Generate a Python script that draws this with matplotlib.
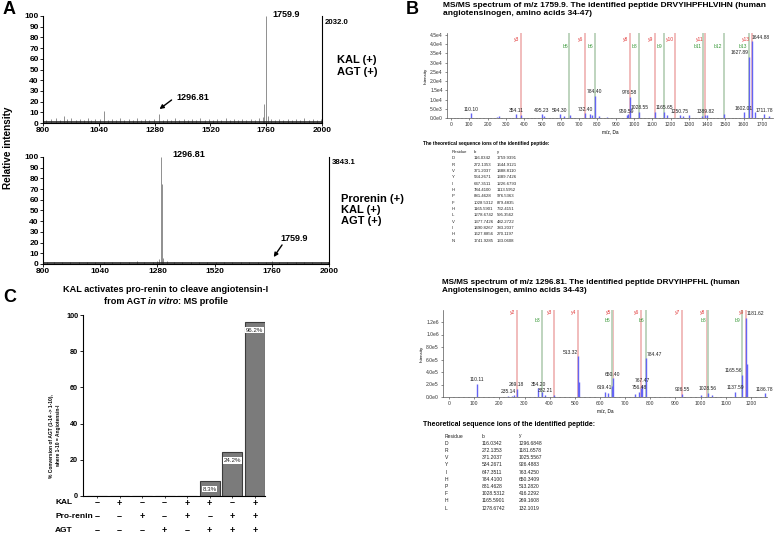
"""Composite MS figure: MALDI profiles (A), MS/MS spectra with ion tables (B),
and % conversion bar chart (C)."""
import numpy as np
import matplotlib
matplotlib.use("Agg")
import matplotlib.pyplot as plt

plt.rcParams["font.family"] = ["Liberation Sans", "DejaVu Sans"]

W, H = 778, 537

# ---------------- panel A: MALDI profiles, (m/z, % relative intensity)
A_XTICKS = [800, 1040, 1280, 1520, 1760, 2000]
A1_PEAKS = [(812, 3), (835, 4), (858, 5), (872, 3), (890, 7), (905, 4), (921, 5), (940, 3),
            (958, 4), (975, 3), (992, 5), (1008, 3), (1025, 4), (1046, 4), (1062, 11), (1080, 3),
            (1098, 4), (1115, 3), (1132, 5), (1150, 3), (1168, 4), (1186, 3), (1204, 5), (1222, 3),
            (1240, 4), (1258, 3), (1276, 4), (1296.81, 8), (1315, 3), (1333, 4), (1351, 3), (1369, 5),
            (1387, 3), (1405, 4), (1423, 3), (1441, 4), (1459, 3), (1477, 5), (1495, 3), (1513, 4),
            (1531, 3), (1549, 4), (1567, 3), (1585, 5), (1603, 3), (1621, 4), (1639, 3), (1657, 4),
            (1675, 3), (1693, 4), (1711, 3), (1729, 5), (1745, 6), (1752, 18), (1759.9, 100),
            (1766, 7), (1780, 4), (1798, 3), (1816, 4), (1834, 3), (1852, 4), (1870, 3), (1888, 4),
            (1906, 3), (1924, 5), (1942, 3), (1960, 4), (1978, 3), (1994, 4)]
A2_PEAKS = [(815, 1.5), (845, 2), (880, 1.5), (915, 2), (950, 1.5), (985, 2), (1020, 1.5),
            (1055, 2), (1090, 1.5), (1125, 2), (1160, 1.5), (1195, 2.5), (1225, 2), (1260, 2),
            (1278, 3), (1288, 5), (1296.81, 100), (1298.5, 75), (1305, 6), (1320, 2.5), (1350, 2),
            (1385, 1.5), (1420, 2), (1455, 1.5), (1490, 2), (1525, 1.5), (1560, 2), (1595, 1.5),
            (1630, 2), (1665, 1.5), (1700, 2), (1735, 1.5), (1759.9, 3), (1790, 2), (1825, 1.5),
            (1860, 2), (1895, 1.5), (1930, 2), (1965, 1.5), (1995, 2)]
A1_FLOOR, A2_FLOOR = 1.0, 0.6
A1_MAX, A2_MAX = "2032.0", "3843.1"

# ---------------- panel B: MS/MS spectra
B1_PEAK_MZ = [110.10, 254, 262, 354.11, 383, 495.23, 510, 594.30, 620, 648, 732.40, 760, 771,
              784.40, 810, 850, 959.59, 970, 976.58, 1028.55, 1113, 1165.65, 1180, 1250.75, 1268,
              1300, 1370, 1389.82, 1400, 1490, 1602.01, 1627.89, 1644.88, 1660, 1711.78, 1740]
B1_PEAK_INT = [2.5e3, 0.8e3, 1.0e3, 2.0e3, 1.5e3, 2.0e3, 1.2e3, 2.0e3, 1.0e3, 1.5e3, 2.5e3, 2.0e3,
               1.5e3, 1.2e4, 1.0e3, 0.8e3, 1.5e3, 2.0e3, 1.15e4, 3.5e3, 3.0e3, 3.5e3, 1.5e3, 1.5e3,
               1.0e3, 1.5e3, 1.0e3, 1.5e3, 1.5e3, 2.0e3, 3.0e3, 3.3e4, 4.15e4, 3.0e3, 2.0e3, 1.0e3]
B1_LABEL_MZ = [110.10, 354.11, 495.23, 594.30, 732.40, 784.40, 959.59, 976.58, 1028.55, 1165.65,
               1250.75, 1389.82, 1602.01, 1627.89, 1644.88, 1711.78]
B1_YTICKS = [0, 5e3, 1e4, 1.5e4, 2e4, 2.5e4, 3e4, 3.5e4, 4e4, 4.5e4]

B2_PEAK_MZ = [110.11, 235.14, 250, 257, 269.18, 354.20, 370, 382.21, 416, 513.32, 518, 619.41, 630,
              648, 650.40, 740, 756.48, 763, 767.47, 784.47, 926.55, 1000, 1028.56, 1045, 1137.59,
              1165.56, 1181.62, 1184, 1255]
B2_PEAK_INT = [2.1e5, 2.0e4, 2.0e4, 3.0e4, 1.3e5, 1.4e5, 8e4, 4e4, 3e4, 6.5e5, 2.4e5, 8e4, 7e4,
               1.8e5, 3.0e5, 5e4, 8e4, 1.5e5, 2.0e5, 6.2e5, 5e4, 4e4, 7e4, 3e4, 8e4, 3.5e5,
               1.27e6, 5.3e5, 6e4]
B2_LABEL_MZ = [110.11, 235.14, 269.18, 354.20, 382.21, 513.32, 619.41, 650.40, 756.48, 767.47,
               784.47, 926.55, 1028.56, 1137.59, 1165.56, 1181.62, 1255]
B2_LABEL_TXT = ["110.11", "235.14", "269.18", "354.20", "382.21", "513.32", "619.41", "650.40",
                "756.48", "767.47", "784.47", "926.55", "1028.56", "1137.59", "1165.56", "1181.62",
                "1186.78"]
B2_YTICKS = [0, 2e5, 4e5, 6e5, 8e5, 1e6, 1.2e6]

# theoretical sequence ions
B1_RES = list("DRVYIHPFHLVIHN")
B1_B = [116.0342, 272.1353, 371.2037, 534.2671, 647.3511, 784.4100, 881.4628, 1028.5312,
        1165.5901, 1278.6742, 1377.7426, 1490.8267, 1627.8856, 1741.9285]
B1_Y = [1759.9391, 1644.9121, 1488.8110, 1389.7426, 1226.6793, 1113.5952, 976.5363, 879.4835,
        732.4151, 595.3562, 482.2722, 383.2037, 270.1197, 133.0608]
B1_Y_SHOWN = [3, 6, 8, 9, 10, 11, 13]
B1_B_SHOWN = [5, 6, 8, 9, 11, 12, 13]

B2_RES = list("DRVYIHPFHL")
B2_B = [116.0342, 272.1353, 371.2037, 534.2671, 647.3511, 784.4100, 881.4628, 1028.5312,
        1165.5901, 1278.6742]
B2_Y = [1296.6848, 1181.6578, 1025.5567, 926.4883, 763.4250, 650.3409, 513.2820, 416.2292,
        269.1608, 132.1019]
B2_Y_SHOWN = [2, 3, 4, 5, 6, 7, 8, 9]
B2_B_SHOWN = [3, 5, 6, 8, 9]

# ---------------- panel C: % conversion
C_VALUES = [0, 0, 0, 0, 0, 8.3, 24.2, 96.2]
C_ROWS = ["KAL", "Pro-renin", "AGT"]
C_KAL = [0, 1, 0, 0, 1, 1, 0, 1]
C_PRORENIN = [0, 0, 1, 0, 1, 0, 1, 1]
C_AGT = [0, 0, 0, 1, 0, 1, 1, 1]

fig = plt.figure(figsize=(W / 100, H / 100), dpi=100)


def px_axes(l, t, r, b):
    return fig.add_axes([l / W, 1 - b / H, (r - l) / W, (b - t) / H])


def ftext(x, y, s, **kw):
    kw.setdefault("va", "center")
    return fig.text(x / W, 1 - y / H, s, **kw)


def sci(v):
    if v == 0:
        return "0.0e0"
    e = int(np.floor(np.log10(v) + 1e-9))
    return f"{v / 10 ** e:.1f}e{e}"


# ======================= A
def draw_profile(ax, peaks, floor, max_label, max_y):
    mz, it = zip(*peaks)
    ax.vlines(mz, 0, it, color="#8f8f8f", lw=0.7)
    ax.plot([800, 2000], [floor, floor], color="#1a1a1a", lw=1.1)
    ax.set_xlim(800, 2000)
    ax.set_ylim(0, 100)
    ax.set_xticks(A_XTICKS)
    ax.set_yticks(range(0, 101, 10))
    ax.spines["top"].set_visible(False)
    for s in ax.spines.values():
        s.set_linewidth(0.8)
    ax.tick_params(labelsize=6, length=2, width=0.6, pad=1)
    for lab in ax.get_xticklabels() + ax.get_yticklabels():
        lab.set_fontweight("bold")
    ax.text(1.008, max_y, max_label, transform=ax.transAxes, fontsize=5.6,
            fontweight="bold", va="center")


arrow = dict(arrowstyle="-|>", color="black", lw=1.0, mutation_scale=6, shrinkA=0, shrinkB=0)

a1 = px_axes(43, 16, 322, 123)
draw_profile(a1, A1_PEAKS, A1_FLOOR, A1_MAX, 0.935)
a1.text(1786, 101, "1759.9", fontsize=6.5, fontweight="bold", va="center", clip_on=False)
a1.annotate("", xy=(1301, 13), xytext=(1353, 21.5), arrowprops=arrow)
a1.text(1374, 23.4, "1296.81", fontsize=6.5, fontweight="bold", va="center")

a2 = px_axes(43, 157, 329, 264)
draw_profile(a2, A2_PEAKS, A2_FLOOR, A2_MAX, 0.944)
a2.text(1341, 102, "1296.81", fontsize=6.5, fontweight="bold", va="center", clip_on=False)
a2.annotate("", xy=(1768, 6.5), xytext=(1803, 17.8), arrowprops=arrow)
a2.text(1795, 23.4, "1759.9", fontsize=6.5, fontweight="bold", va="center")

ftext(337, 66, "KAL (+)\nAGT (+)", fontsize=8, fontweight="bold", linespacing=1.15)
ftext(341, 210, "Prorenin (+)\nKAL (+)\nAGT (+)", fontsize=8, fontweight="bold", linespacing=1.15)
ftext(8, 148, "Relative intensity", fontsize=7.2, fontweight="bold", rotation=90, ha="center")
ftext(3, 10, "A", fontsize=13, fontweight="bold")
ftext(406, 10, "B", fontsize=13, fontweight="bold")
ftext(3, 298, "C", fontsize=13, fontweight="bold")


# ======================= B
def draw_msms(ax, mz, inten, label_mz, label_txt, label_ha, yvals, bvals, y_shown, b_shown,
              xlim, ylim, xticks, yticks, red_y, green_y):
    n = len(yvals)
    for k in y_shown:
        x = yvals[n - k]
        ax.axvline(x, color="#f3c2c2", lw=1.3, zorder=1)
        ax.axvline(x, color="#e89a9a", lw=0.3, zorder=1)
        ax.annotate(f"y{k}", xy=(x, red_y), xycoords=("data", "axes fraction"), xytext=(-1.2, 0),
                    textcoords="offset points", ha="right", va="center", fontsize=3.6,
                    color="#e23a3a")
    for k in b_shown:
        x = bvals[k - 1]
        ax.axvline(x, color="#c6dbc6", lw=1.3, zorder=1)
        ax.axvline(x, color="#94b594", lw=0.3, zorder=1)
        ax.annotate(f"b{k}", xy=(x, green_y), xycoords=("data", "axes fraction"), xytext=(-1.2, 0),
                    textcoords="offset points", ha="right", va="center", fontsize=3.6,
                    color="#3a9a3a")
    ax.vlines(mz, 0, inten, color="#6464f4", lw=1.0, zorder=2)
    lookup = dict(zip(mz, inten))
    for m, t in zip(label_mz, label_txt):
        ax.annotate(t, xy=(m, lookup[m]), xytext=(0, 1.2), textcoords="offset points",
                    ha=label_ha.get(t, "center"), va="bottom", fontsize=3.6, color="#222")
    ax.set_xlim(*xlim)
    ax.set_ylim(*ylim)
    ax.set_xticks(xticks)
    ax.set_xticks(np.arange(0, xlim[1], 20), minor=True)
    ax.set_yticks(yticks)
    ax.set_yticklabels([sci(v) for v in yticks])
    for s in ("top", "right"):
        ax.spines[s].set_visible(False)
    for s in ("left", "bottom"):
        ax.spines[s].set_linewidth(0.5)
        ax.spines[s].set_color("#555")
    ax.tick_params(labelsize=3.6, length=1.5, width=0.4, pad=1.5, colors="#333")
    ax.tick_params(which="minor", length=0.8, width=0.3, colors="#555")
    ax.set_ylabel("Intensity", fontsize=3.2, labelpad=1.5)
    ax.set_xlabel("m/z, Da", fontsize=3.4, labelpad=1.5)


b1 = px_axes(447, 33, 773, 118)
draw_msms(b1, B1_PEAK_MZ, B1_PEAK_INT, B1_LABEL_MZ, [f"{m:.2f}" for m in B1_LABEL_MZ],
          {"1627.89": "right", "1644.88": "left"}, B1_Y, B1_B, B1_Y_SHOWN, B1_B_SHOWN,
          (-22, 1760), (0, 4.61e4), range(0, 1701, 100), B1_YTICKS, 0.918, 0.847)

b2 = px_axes(443, 310, 767, 397)
draw_msms(b2, B2_PEAK_MZ, B2_PEAK_INT, B2_LABEL_MZ, B2_LABEL_TXT,
          {"513.32": "right", "784.47": "left", "1165.56": "right", "1181.62": "left"},
          B2_Y, B2_B, B2_Y_SHOWN, B2_B_SHOWN,
          (-24, 1264), (0, 1.392e6), range(0, 1201, 100), B2_YTICKS, 0.966, 0.874)

ftext(443, 2, "MS/MS spectrum of m/z 1759.9. The identified peptide DRVYIHPFHLVIHN (human\n"
      "angiotensinogen, amino acids 34-47)", fontsize=6.0, fontweight="bold", va="top",
      linespacing=1.2)
ftext(442, 279, "MS/MS spectrum of m/z 1296.81. The identified peptide DRVYIHPFHL (human\n"
      "Angiotensinogen, amino acids 34-43)", fontsize=5.9, fontweight="bold", va="top",
      linespacing=1.2)


def draw_table(header, hx, hy, hsize, cols, y0, dy, res, bvals, yvals, size):
    ftext(hx, hy, header, fontsize=hsize, fontweight="bold")
    rows = [("Residue", "b", "y")] + [(r, f"{b:.4f}", f"{y:.4f}")
                                       for r, b, y in zip(res, bvals, yvals)]
    for k, row in enumerate(rows):
        for x, s in zip(cols, row):
            ftext(x, y0 + k * dy, s, fontsize=size, color="#222")


draw_table("The theoretical sequence ions of the identified peptide:", 423, 144, 3.4,
           (452, 474, 497), 152, 6.34, B1_RES, B1_B, B1_Y, 3.1)
draw_table("Theoretical sequence ions of the identified peptide:", 423, 424, 5.0,
           (445, 482, 519), 436, 7.22, B2_RES, B2_B, B2_Y, 3.6)

# ======================= C
c = px_axes(83, 315, 265, 496)
xs = np.arange(len(C_VALUES))
c.bar(xs, C_VALUES, width=0.88, color="#7b7b7b", edgecolor="#3c3c3c", lw=0.8, zorder=2)
for x, v in zip(xs, C_VALUES):
    if v > 0:
        c.text(x, v - 4.6, f"{v}%", ha="center", va="center", fontsize=4.4, color="#222",
               bbox=dict(fc="white", ec="none", pad=0.5), zorder=3)
c.set_xlim(-0.62, 7.45)
c.set_ylim(0, 100)
c.set_yticks(range(0, 101, 20))
c.set_xticks(xs)
c.set_xticklabels([])
c.tick_params(axis="y", labelsize=5.2, length=2, width=0.6, pad=1.5)
c.tick_params(axis="x", length=1.5, width=0.5)
for lab in c.get_yticklabels():
    lab.set_fontweight("bold")
for s in ("top", "right"):
    c.spines[s].set_visible(False)
for s in ("left", "bottom"):
    c.spines[s].set_linewidth(0.8)
ftext(55, 436, "% Conversion of AGT (1-14 -> 1-10),\nwhere 1-10 = Angiotensin-I", fontsize=3.5,
      fontweight="bold", rotation=90, ha="center", linespacing=1.3)

row_y = [-0.0387, -0.116, -0.193]
for name, flags, ry, py in zip(C_ROWS, [C_KAL, C_PRORENIN, C_AGT], row_y, [503, 517, 531]):
    ftext(55, py, name, fontsize=6, fontweight="bold")
    for x, f in zip(xs, flags):
        c.text(x, ry, "+" if f else "–", transform=c.get_xaxis_transform(), ha="center",
               va="center", fontsize=6.5, fontweight="bold", clip_on=False)

# two-line title with bold italic "in vitro"
ftext(166, 290, "KAL activates pro-renin to cleave angiotensin-I", fontsize=6.6,
      fontweight="bold", ha="center")
renderer = fig.canvas.get_renderer()
parts = [("from AGT ", "normal"), ("in vitro", "italic"), (": MS profile", "normal")]
pieces = [ftext(0, 302, s, fontsize=6.6, fontweight="bold", style=st) for s, st in parts]
widths = [p.get_window_extent(renderer).width for p in pieces]
x0 = 166 - sum(widths) / 2
for p, w in zip(pieces, widths):
    p.set_x(x0 / W)
    x0 += w

fig.savefig("out.png", dpi=100)
